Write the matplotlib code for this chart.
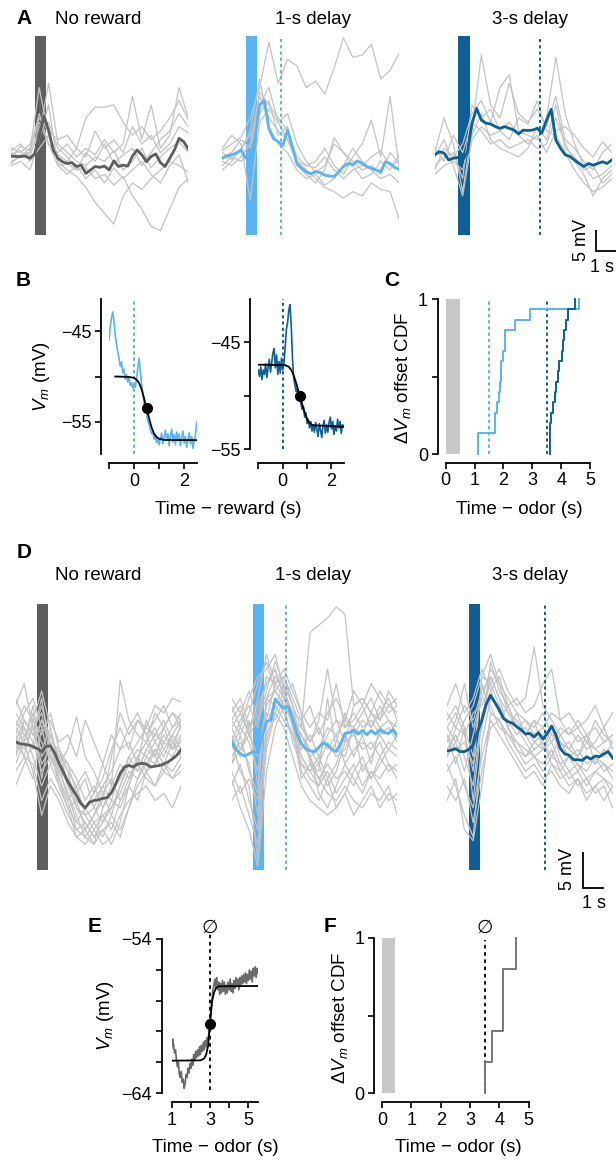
import numpy as np
import matplotlib
matplotlib.use('Agg')
import matplotlib.pyplot as plt

# ------------------------------------------------------------------ data
# time grids (s, relative to odor onset)
t_mean = np.round(np.arange(-1.0, 6.61, 0.2), 2)   # 39 samples
t_gray = np.round(np.arange(-1.0, 6.61, 0.4), 2)   # 20 samples

# Panel A mean traces (mV, relative)
A_nr_mean = [0.2, 0.1, 0.1, 0.2, -0.3, 0.7, 4.7, 9.5, 6.2, 1.6, -0.3, -1.1, -1.5, -1.3, -2.2,
             -1.9, -3.8, -3.0, -2.2, -2.4, -2.1, -3.0, -0.9, -2.2, -1.9, -2.1, 0.2, 1.6, 0.5, -1.1,
             0.1, 0.7, -1.3, -2.2, -0.3, 1.6, 4.3, 3.5, 1.8]
A_1s_mean = [-0.3, 0.2, 0.5, 0.9, 1.6, -0.3, 0.9, 3.9, 12.0, 13.0, 6.5, 4.2, 3.5, 2.7, 6.2,
             2.4, -1.5, -2.6, -3.4, -3.9, -3.4, -3.6, -4.2, -4.4, -4.5, -3.4, -2.2, -1.5, -1.8, -0.9,
             -1.5, -2.2, -2.6, -3.0, -3.4, -1.1, -1.5, -2.4, -2.9]
A_3s_mean = [0.5, 1.2, 0.9, -0.7, -0.3, -0.1, -0.7, 0.9, 7.8, 11.2, 8.5, 7.8, 7.6, 7.0, 6.6,
             7.0, 6.6, 6.2, 5.3, 6.2, 6.1, 6.2, 6.6, 5.5, 8.5, 11.0, 3.9, 2.0, 0.5, 0.1,
             -0.7, -1.5, -2.2, -1.5, -1.9, -1.5, -1.1, -1.5, -0.7]

# Panel A single-trial traces
A_nr_trials = [
    [0.5, 1.5, -1.0, 2.0, 5.0, -1.0, -3.0, -4.5, -7.0, -10.5, -13.0, -15.5, -9.0, -6.0, -7.5, -5.0, -3.0, -1.0, -2.0, -3.5],
    [1.0, 0.0, 2.0, 8.0, 3.0, -2.0, -1.5, -3.0, -2.5, -5.0, -4.0, -6.5, -4.5, -9.0, -12.0, -16.0, -17.0, -12.0, -7.0, -5.0],
    [2.0, 1.0, 3.0, 9.0, 6.0, 4.0, 5.0, 2.0, 9.0, 11.5, 11.5, 12.0, 8.0, 5.0, 7.0, 4.0, 6.0, 9.0, 13.0, 8.5],
    [-1.0, 0.0, 1.0, 10.0, 3.0, 1.0, 3.0, 0.0, 2.0, 0.5, 4.0, 1.0, 3.0, 14.0, 4.0, 12.0, 2.0, 5.0, 16.0, 9.0],
    [0.0, 2.5, 1.5, 16.0, 5.0, 0.5, -1.0, 2.0, 0.0, 6.0, 2.0, 4.0, 1.0, 7.0, 3.0, 5.0, 1.0, 3.0, 7.0, 5.5],
    [-2.0, -1.0, -3.0, 4.0, 12.0, -2.0, -4.0, -2.0, -5.0, -3.0, -6.0, -2.5, -5.0, -3.0, -1.0, -4.0, -6.0, -2.0, 0.5, -6.0],
    [1.5, 3.0, 0.0, 7.0, 8.0, 2.0, 0.0, -3.0, 1.0, -1.0, 3.0, -1.5, 0.5, 2.0, -2.0, 1.0, 4.0, 6.0, 10.0, 7.0],
    [-1.5, 0.5, 1.0, 5.0, 17.0, 3.0, 1.0, -1.0, -2.0, 0.0, -1.0, 1.5, -3.0, -1.0, 2.0, -2.5, 0.0, 2.0, 3.5, 1.0],
]
A_1s_trials = [
    [1.5, 3.0, 4.5, 9.0, 16.0, 26.5, 17.0, 22.5, 21.0, 16.0, 17.5, 14.5, 20.5, 27.5, 23.0, 23.5, 26.0, 18.0, 20.0, 24.0],
    [0.0, 1.0, 4.0, 2.0, 14.0, 9.0, 6.0, 4.0, -1.0, -3.0, -5.0, -7.0, -8.0, -9.5, -8.0, -9.0, -6.0, -7.5, -8.0, -14.5],
    [2.0, 5.0, 3.0, -10.0, 8.0, 11.0, 8.0, 10.0, 3.0, -1.0, -3.5, -2.0, 3.0, 1.0, -1.0, -3.0, -2.0, -4.0, 1.0, -1.5],
    [-1.0, -2.0, 0.0, 3.0, 15.0, 12.0, 9.0, 6.0, 0.0, -2.0, -1.0, 2.0, -2.0, -4.0, 0.0, 3.0, 8.5, 0.0, 14.0, -3.0],
    [-3.0, -1.0, 2.0, 5.0, 10.0, 13.0, 5.0, 7.0, -2.0, -4.0, -6.0, -3.0, 4.5, 1.0, -2.0, -5.0, -4.0, -1.0, -3.0, 0.5],
    [1.0, -0.5, 1.5, 6.0, 18.0, 7.0, 3.0, 1.0, -3.0, -5.0, -4.0, -6.5, -5.0, -2.0, 2.0, -1.0, -3.0, -5.0, -4.0, -6.0],
    [-2.0, 0.0, -1.0, 1.0, 12.0, 16.0, 8.0, 4.0, -1.0, -2.0, -2.5, 0.0, -3.0, -5.0, -3.0, -2.0, 0.0, 1.5, -2.0, -1.0],
]
A_3s_trials = [
    [1.0, 9.0, 3.0, -8.0, 6.0, 23.5, 12.0, 9.0, 17.0, 10.0, 8.0, 11.0, 7.0, 14.0, 4.0, 2.0, -1.0, -3.0, 1.0, 3.0],
    [-3.0, 2.0, 0.0, 3.0, 10.0, 13.0, 8.0, 16.0, 19.0, 6.0, 5.0, 4.0, 9.0, 23.0, 10.0, 3.0, -2.0, -5.0, -4.0, -2.0],
    [0.0, 4.0, -2.0, -9.0, 4.0, 7.0, 5.0, 6.0, 4.0, 9.0, 7.5, 13.0, 6.0, 5.0, 1.0, -3.0, -6.0, -8.0, -7.0, -5.0],
    [2.0, -1.0, 5.0, 1.0, 8.0, 6.0, 3.0, 4.0, 2.0, 3.0, 4.0, 2.0, 3.0, 9.0, 3.0, -1.0, -4.0, -9.0, -5.0, -3.0],
    [-2.0, 0.0, 1.0, -5.0, 12.0, 9.0, 11.0, 6.0, 8.0, 5.0, 3.0, 5.0, 1.0, 6.0, 7.0, 5.0, 2.0, 0.0, 3.5, 1.0],
    [-4.0, -2.0, -1.0, -3.0, 5.0, 10.0, 4.0, 2.0, 1.0, 0.0, 2.0, 7.0, 4.0, 12.0, 2.0, 0.0, -3.0, -2.0, -6.0, -4.0],
]

# Panel D mean traces
D_nr_mean = [0.0, -0.2, -0.3, -0.4, -0.6, -0.9, -1.3, -0.6, -0.5, -1.5, -2.9, -4.1, -5.4, -6.4, -7.3,
             -8.4, -9.0, -8.2, -8.0, -7.9, -7.7, -7.6, -6.9, -5.7, -4.3, -3.4, -3.2, -3.4, -3.0, -2.9,
             -3.0, -3.4, -3.3, -3.2, -3.0, -2.7, -2.3, -1.8, -1.0]
D_1s_mean = [0.1, -1.0, -1.6, -1.9, -1.6, -1.3, -1.5, 0.7, 2.8, 3.0, 5.9, 5.2, 4.6, 4.9, 3.2,
             1.1, -0.2, -0.9, -1.2, -1.3, -0.7, -0.1, -0.4, -1.0, -1.3, -0.2, 1.2, 1.3, 1.6, 1.1,
             1.6, 1.0, 1.6, 1.1, 1.7, 1.3, 1.2, 1.7, 0.8]
D_3s_mean = [-1.2, -1.1, -0.9, -1.3, -1.3, -1.0, -0.4, 1.4, 3.0, 5.2, 6.4, 5.4, 4.4, 3.2, 2.8,
             2.6, 2.1, 1.7, 1.1, 1.2, 0.7, 1.3, 0.4, 1.2, 2.2, 1.0, -0.9, -1.6, -1.8, -2.4,
             -2.4, -2.5, -2.0, -2.3, -1.9, -2.0, -1.6, -1.3, -2.2]

D_nr_trials = [
    [5.0, 8.0, 2.0, -3.0, -1.0, -6.0, -9.0, -11.0, -12.0, -10.0, -8.0, -2.0, 4.0, 1.0, 3.0, 2.0, 5.0, 4.0, 6.0, 5.5],
    [-2.0, 1.0, -1.0, 3.0, 0.0, -4.0, -7.0, -10.0, -13.0, -14.0, -12.0, -11.0, -13.0, -9.0, -6.0, -4.0, -3.0, -1.0, -2.0, 0.5],
    [2.0, 0.0, 4.0, -5.0, 1.0, -2.0, -3.0, -5.0, -8.0, -6.0, -9.0, -7.0, -5.0, -2.0, 0.0, 2.0, 1.0, 3.0, 0.0, 2.0],
    [0.0, 3.0, 1.0, 6.0, -1.0, -3.0, -6.0, -8.0, -9.0, -11.0, -10.0, -12.0, -8.0, -5.0, -3.0, -5.0, -6.0, -4.0, -5.0, -3.0],
    [-4.0, -2.0, -3.0, -8.0, -5.0, -7.0, -10.0, -12.0, -11.0, -13.0, -11.0, -9.0, -6.0, -3.0, -4.0, -1.0, 1.0, 0.0, 2.0, 3.0],
    [1.0, 4.0, 6.0, 2.0, 3.0, 0.0, 1.0, -2.0, 3.0, 0.0, -3.0, -6.0, 8.5, 3.0, 1.0, 0.0, 4.0, 2.0, -1.0, 1.0],
    [3.0, 1.0, 2.0, 0.0, -2.0, -5.0, -8.0, -6.0, -4.0, -7.0, -5.0, -1.0, 2.0, -1.0, 3.0, 1.0, -2.0, 2.0, 4.0, 2.0],
    [-1.0, 2.0, -2.0, -6.0, -3.0, -1.0, -4.0, -9.0, -10.0, -12.0, -14.0, -13.0, -10.0, -8.0, -7.0, -6.0, -8.0, -7.0, -9.0, -6.0],
    [0.5, -1.0, 2.0, 4.0, -2.0, -4.0, -5.0, -7.0, -9.0, -8.0, -6.0, -8.0, -4.0, -3.0, -1.0, -2.0, 0.0, -2.0, 1.0, -1.0],
    [-6.0, -3.0, 0.0, -4.0, -2.0, -3.0, -1.0, 3.5, -2.0, -4.0, -7.0, -10.0, -12.0, -9.0, -5.0, -2.0, -3.0, 0.0, -1.0, 2.5],
    [2.0, 5.0, 3.0, 1.0, 4.0, -1.0, -6.0, -9.0, -11.0, -13.0, -12.0, -14.0, -11.0, -6.0, -2.0, 0.0, 2.0, -1.0, 1.0, 3.0],
    [-1.5, 0.0, -4.0, -10.0, -6.0, -8.0, -11.0, -13.0, -14.0, -12.0, -10.0, -9.0, -7.0, -4.0, -5.0, -3.0, -1.0, -3.0, -4.0, -2.0],
    [1.0, -2.0, 3.0, 7.0, 2.0, -3.0, -8.0, -12.0, -13.0, -11.0, -13.0, -10.0, -6.0, -2.0, -4.0, -1.0, -2.0, 1.0, -1.0, 0.0],
    [-3.0, 0.0, 5.0, -2.0, 0.0, -5.0, -9.0, -13.0, -12.0, -14.0, -9.0, -6.0, -3.0, -5.0, -2.0, 0.0, -2.0, -4.0, -2.0, -1.5],
    [4.0, 2.0, 0.0, 3.0, 1.0, -2.0, -4.0, -6.0, -10.0, -9.0, -11.0, -8.0, -9.0, -6.0, -8.0, -4.0, -6.0, -3.0, -5.0, -4.0],
    [-2.0, 3.0, 1.0, -1.0, 2.0, -4.0, -7.0, -11.0, -9.0, -7.0, -3.0, 1.0, -1.0, 2.0, 4.0, 1.0, 3.0, 5.0, 2.0, 4.0],
    [0.0, -2.0, -5.0, 2.0, -3.0, -6.0, -9.0, -8.0, -12.0, -10.0, -7.0, -5.0, -8.0, -6.0, -2.0, -4.0, -1.0, -3.0, 0.0, -2.0],
    [6.0, 3.0, 1.0, 5.0, 0.0, -1.0, -3.0, -7.0, -5.0, -9.0, -6.0, -4.0, -1.0, 0.0, -3.0, 3.0, 0.0, 2.0, 4.0, 3.0],
]
D_1s_trials = [
    [2.0, 4.0, 1.0, 3.0, 6.0, 7.0, 5.0, 3.0, 2.0, 15.0, 16.0, 17.0, 18.5, 17.5, 5.0, 6.0, 4.0, 3.0, 5.0, 4.0],
    [-5.0, -9.0, -12.0, -17.0, -4.0, 2.0, 5.0, 0.0, -3.0, -4.0, -6.0, -2.0, 0.0, 4.0, 1.0, 3.0, 2.0, 5.0, 3.0, 2.0],
    [1.0, -2.0, 3.0, -6.0, 6.0, 9.0, 7.0, 4.0, 0.0, -2.0, -5.0, -7.0, -8.0, -6.0, -8.0, -9.0, -7.0, -8.0, -6.0, -10.0],
    [4.0, 6.0, 2.0, 5.0, 8.0, 10.0, 6.0, 2.0, -1.0, 1.0, -2.0, 1.0, 3.0, 0.0, 5.0, 6.0, 4.0, 7.0, 5.0, 6.0],
    [-2.0, 0.0, -3.0, -10.0, 2.0, 6.0, 4.0, 1.0, -3.0, -5.0, -6.0, -4.0, -7.0, -5.0, -3.0, -6.0, -4.0, -5.0, -3.0, -4.0],
    [0.0, 3.0, 5.0, 2.0, 9.0, 8.0, 9.0, 6.0, 3.0, 0.0, 2.0, -1.0, 1.0, 3.0, 2.0, 1.0, 4.0, 2.0, 3.0, 1.0],
    [-8.0, -6.0, -10.0, -14.0, -1.0, 4.0, 2.0, -2.0, -6.0, -8.0, -9.0, -10.0, -9.0, -7.0, -4.0, -2.0, -5.0, -3.0, -1.0, -2.0],
    [3.0, 1.0, 4.0, 8.0, 11.0, 7.0, 5.0, 3.0, 1.0, -1.0, -3.0, 0.0, -2.0, -1.0, 2.0, 4.0, 6.0, 3.0, 7.0, 5.0],
    [-1.0, 2.0, 0.0, -4.0, 4.0, 3.0, 6.0, 8.0, 4.0, -3.0, -5.0, -3.0, -5.0, -4.0, -6.0, -3.0, -5.0, -2.0, -4.0, -3.0],
    [6.0, 4.0, 7.0, 3.0, 7.0, 11.0, 8.0, 5.0, 2.0, 0.0, 3.0, 10.0, 3.0, 2.0, 4.0, 2.0, 3.0, 1.0, 2.0, 0.0],
    [-4.0, -7.0, -5.0, -8.0, 0.0, 5.0, 3.0, 1.0, -2.0, -4.0, -3.0, -6.0, -4.0, 0.0, 1.0, -1.0, 0.0, -2.0, 0.0, -1.0],
    [-3.0, -1.0, 1.0, -2.0, 5.0, 7.0, 9.0, 5.0, 0.0, -2.0, -1.0, 2.0, 1.0, -3.0, -1.0, 0.0, -1.0, 1.0, -1.0, 1.0],
    [-6.0, -3.0, -8.0, -12.0, 3.0, 8.0, 6.0, 3.0, -4.0, -6.0, -8.0, -5.0, -9.0, -7.0, -10.0, -8.0, -6.0, -9.0, -7.0, -8.0],
    [5.0, 2.0, 6.0, 9.0, 10.0, 12.0, 7.0, 4.0, 3.0, 5.0, 1.0, 4.0, 6.0, 3.0, 7.0, 5.0, 8.0, 6.0, 4.0, 5.0],
    [-3.0, 1.0, -4.0, -7.0, 6.0, 5.0, 8.0, 2.0, -5.0, -3.0, -4.0, 6.0, -1.0, -2.0, 2.0, -4.0, -2.0, 0.0, -3.0, -5.0],
    [2.0, -1.0, 2.0, 4.0, 8.0, 10.0, 6.0, 3.0, -2.0, -4.0, -2.0, -5.0, -3.0, 1.0, -2.0, 1.0, -3.0, 2.0, 1.0, 3.0],
    [0.0, -4.0, -6.0, -16.0, 1.0, 4.0, 7.0, 3.0, 1.0, -2.0, -7.0, -9.0, -6.0, -3.0, -5.0, -7.0, -4.0, -6.0, -8.0, -7.0],
    [3.0, 5.0, 1.0, 6.0, 12.0, 8.0, 10.0, 7.0, 4.0, 2.0, 4.0, 3.0, 8.0, 2.0, 3.0, 5.0, 2.0, 4.0, 6.0, 3.0],
]
D_3s_trials = [
    [0.0, 3.0, 8.0, 2.0, 6.0, 10.0, 8.0, 6.0, 4.0, 3.0, 2.0, 4.0, 1.0, 0.0, -2.0, -1.0, -3.0, -2.0, -4.0, -3.0],
    [-3.0, -6.0, -10.0, -13.0, 0.0, 6.0, 5.0, 2.0, 0.0, -2.0, -1.0, 0.0, -3.0, -5.0, -4.0, -6.0, -5.0, -7.0, -6.0, -9.0],
    [2.0, 0.0, 3.0, 5.0, 9.0, 8.0, 10.0, 7.0, 5.0, 6.0, 13.0, 5.0, 3.0, 1.0, 2.0, 0.0, 1.0, -1.0, 0.0, 1.0],
    [-1.0, 1.0, -2.0, -6.0, 4.0, 7.0, 4.0, 3.0, 1.0, 2.0, 0.0, 1.0, 2.0, -2.0, -4.0, -3.0, -5.0, -4.0, -3.0, -5.0],
    [-6.0, -8.0, -5.0, -11.0, -4.0, 2.0, 3.0, 1.0, 0.0, -1.0, -2.0, -1.0, 0.0, -3.0, -2.0, -4.0, -2.0, -3.0, -1.0, -2.0],
    [4.0, 2.0, 5.0, 3.0, 7.0, 9.0, 6.0, 4.0, 3.0, 1.0, 3.0, 2.0, 4.0, 3.0, 1.0, 2.0, 0.0, 3.0, 1.0, 0.0],
    [1.0, -1.0, 0.0, -3.0, 2.0, 11.0, 7.0, 5.0, 2.0, 0.0, -2.0, -3.0, -1.0, -4.0, -6.0, -5.0, -7.0, -6.0, -8.0, -6.0],
    [-2.0, 2.0, 1.0, 4.0, 5.0, 8.0, 5.0, 2.0, -1.0, -2.0, 0.0, -1.0, 1.0, 0.0, -1.0, 1.0, -1.0, 0.0, 2.0, -1.0],
    [3.0, 5.0, 2.0, -2.0, 8.0, 4.0, 3.0, 5.0, 2.0, 1.0, -1.0, 0.0, -2.0, 1.0, -1.0, -2.0, 0.0, -1.0, -2.0, 0.0],
    [-4.0, -2.0, -6.0, -9.0, -2.0, 3.0, 1.0, -1.0, -3.0, -5.0, -4.0, -6.0, -3.0, -4.0, -2.0, -3.0, -4.0, -2.0, -3.0, -4.0],
    [-8.0, -5.0, -12.0, -13.5, -6.0, 4.0, 3.0, 0.0, -2.0, -4.0, -3.0, -5.0, -4.0, -6.0, -7.0, -5.0, -8.0, -6.0, -5.0, -7.0],
    [5.0, 8.0, 4.0, 6.0, 10.0, 7.0, 9.0, 5.0, 6.0, 4.0, 5.0, 8.0, 10.0, 3.0, 4.0, 2.0, 3.0, 5.0, 2.0, 4.0],
    [1.0, -3.0, 2.0, -8.0, 3.0, 9.0, 6.0, 2.0, 4.0, 1.0, 3.0, -1.0, 2.0, -1.0, 0.0, -2.0, 1.0, -3.0, -1.0, -2.0],
    [-2.0, 0.0, -4.0, 1.0, 6.0, 5.0, 2.0, 1.0, -1.0, -3.0, -2.0, -4.0, -2.0, -3.0, -5.0, -4.0, -6.0, -4.0, -5.0, -6.0],
    [2.0, 4.0, 1.0, -4.0, 9.0, 12.0, 8.0, 4.0, 2.0, 3.0, 1.0, 2.0, 0.0, 2.0, 1.0, 3.0, 1.0, 2.0, 0.0, 1.0],
]

odor_dur = 0.5
reward_1s = 1.5
reward_3s = 3.5

# Panel B (time - reward, s; Vm, mV)
tB = np.round(np.arange(-1.0, 2.501, 0.05), 2)   # 71 samples
B1_vm = [-46.0, -44.5, -43.5, -42.9, -44.0, -45.5, -46.5, -47.3, -48.0, -48.9, -48.4, -49.6, -49.2, -50.3,
         -49.8, -50.6, -50.1, -51.0, -50.7, -51.3, -50.9, -51.2, -50.2, -49.0, -48.0, -49.5, -50.8, -51.9,
         -53.0, -53.6, -54.2, -54.9, -55.3, -55.8, -56.3, -56.0, -56.9, -56.4, -57.3, -56.7, -57.5, -56.8,
         -56.2, -57.4, -56.6, -55.9, -57.0, -56.3, -57.6, -56.5, -55.8, -57.2, -56.4, -57.5, -56.1, -57.0,
         -56.3, -57.6, -56.7, -56.0, -57.3, -56.6, -57.8, -56.9, -56.2, -57.4, -56.6, -57.9, -57.1, -56.4, -55.0]
B1_fit_t = [-0.75, -0.2, 0.0, 0.1, 0.2, 0.3, 0.4, 0.5, 0.6, 0.7, 0.8, 0.9, 1.0, 1.2, 2.5]
B1_fit_v = [-50.0, -50.05, -50.15, -50.35, -50.7, -51.4, -52.4, -53.5, -54.6, -55.6, -56.3, -56.65, -56.85, -56.97, -57.0]
B1_mid = (0.5, -53.5)

B3_vm = [-47.6, -48.2, -47.3, -48.5, -47.6, -48.0, -47.0, -48.3, -47.4, -46.6, -47.8, -46.9, -46.0, -45.6,
         -47.4, -46.2, -48.0, -46.8, -47.9, -46.5, -47.6, -47.0, -45.5, -43.8, -43.2, -42.0, -41.5, -43.5,
         -46.5, -48.3, -49.0, -49.6, -49.3, -50.2, -50.0, -50.8, -51.3, -51.0, -52.0, -51.6, -52.6, -52.2,
         -53.0, -52.4, -53.3, -52.7, -53.4, -52.5, -53.1, -53.8, -52.6, -53.2, -53.9, -52.8, -52.3, -53.5,
         -52.7, -53.4, -52.5, -52.0, -53.1, -52.4, -53.6, -52.8, -53.3, -52.2, -53.0, -52.4, -53.5, -52.7, -52.9]
B3_fit_t = [-1.0, 0.1, 0.25, 0.35, 0.45, 0.55, 0.65, 0.7, 0.75, 0.85, 0.95, 1.05, 1.2, 2.5]
B3_fit_v = [-47.1, -47.15, -47.3, -47.6, -48.1, -48.8, -49.6, -50.0, -50.4, -51.2, -51.9, -52.4, -52.75, -52.9]
B3_mid = (0.7, -50.0)

# Panel C: Vm offset times (s after odor)
C_offsets_1s = [1.13, 1.13, 1.70, 1.70, 1.78, 1.85, 1.89, 1.91, 1.93, 1.99, 2.05, 2.05, 2.39, 2.91, 4.61]
C_offsets_3s = [3.60, 3.60, 3.60, 3.66, 3.71, 3.77, 3.83, 3.90, 3.94, 4.02, 4.06, 4.09, 4.17, 4.23, 4.47]

# Panel E: single trace, omitted reward
tE = np.round(np.arange(1.0, 5.501, 0.05), 2)   # 91 samples
E_vm = [-61.1, -60.5, -60.9, -61.4, -61.2, -61.9, -62.3, -62.0, -62.8, -63.0, -62.6, -63.3, -63.1, -63.7,
        -63.4, -62.8, -63.0, -62.4, -62.7, -62.1, -62.4, -61.8, -62.2, -61.5, -61.9, -61.3, -61.7, -61.2,
        -61.6, -61.0, -61.5, -60.9, -61.3, -60.7, -61.2, -60.6, -61.0, -60.4, -60.6, -59.9, -59.3, -58.6,
        -58.0, -57.3, -57.0, -56.6, -57.2, -56.5, -57.3, -56.8, -57.6, -56.9, -57.5, -56.7, -57.4, -56.8,
        -57.6, -57.0, -57.5, -56.8, -57.3, -56.6, -57.4, -56.9, -57.5, -56.7, -57.2, -56.5, -57.1, -56.6,
        -57.3, -56.5, -57.0, -56.4, -56.9, -56.3, -56.8, -56.2, -56.9, -56.3, -56.7, -56.0, -56.6, -56.1,
        -56.8, -55.9, -56.4, -55.8, -56.5, -55.9, -56.2]
E_fit_t = [1.0, 2.5, 2.7, 2.8, 2.9, 3.0, 3.1, 3.2, 3.3, 3.45, 5.5]
E_fit_v = [-61.9, -61.88, -61.75, -61.5, -60.9, -59.5, -58.1, -57.5, -57.2, -57.07, -57.05]
E_mid = (3.0, -59.5)
E_expected = 3.0

# Panel F
F_offsets = [3.52, 3.75, 4.14, 4.14, 4.56]
F_expected = 3.5
F_odor_dur = 0.45

# ------------------------------------------------------------------ style
C_GRAY_MEAN = '#5e5e5e'
C_LBLUE = '#59b4f3'
C_DBLUE = '#0c6097'
C_TRIAL = '#c3c3c3'
C_ODOR = '#c8c8c8'

W, H, DPI = 616, 1163, 100
plt.rcParams['font.family'] = ['Liberation Sans', 'DejaVu Sans']
plt.rcParams['mathtext.fontset'] = 'custom'
plt.rcParams['mathtext.rm'] = 'Liberation Sans'
plt.rcParams['mathtext.it'] = 'Liberation Sans:italic'
plt.rcParams['mathtext.bf'] = 'Liberation Sans:bold'
plt.rcParams['axes.unicode_minus'] = True

fig = plt.figure(figsize=(W / DPI, H / DPI), dpi=DPI)

def box(x0, y0, x1, y1):
    return [x0 / W, 1 - y1 / H, (x1 - x0) / W, (y1 - y0) / H]

def ftext(x, y, s, **kw):
    kw.setdefault('ha', 'center')
    kw.setdefault('va', 'center')
    fig.text(x / W, 1 - y / H, s, **kw)

FS_T = 13.5
FS_TK = 13
FS_L = 15
DOT = (0, (1.6, 1.6))

def trace_axes(x_left, y_top, y_bot, pps, ylim, bar_color, trials, mean, mean_color, reward=None):
    width = (6.6 - (-1.0)) * pps
    ax = fig.add_axes(box(x_left, y_top, x_left + width, y_bot))
    ax.set_xlim(-1.0, 6.6)
    ax.set_ylim(*ylim)
    ax.axis('off')
    ax.axvspan(0, odor_dur, color=bar_color, lw=0, zorder=1)
    for tr in trials:
        ax.plot(t_gray, tr, color=C_TRIAL, lw=0.9, zorder=2, solid_joinstyle='round')
    if reward is not None:
        ax.axvline(reward, color=mean_color, lw=1.4, ls=DOT, zorder=2.5)
    ax.plot(t_mean, mean, color=mean_color, lw=2.0, zorder=3, solid_joinstyle='round')
    return ax

# ---- Panel A
A_ylim = (-18.0, 27.9)
A_pps = 23.3
trace_axes(11.3, 36, 235, A_pps, A_ylim, C_GRAY_MEAN, A_nr_trials, A_nr_mean, C_GRAY_MEAN)
trace_axes(222.3, 36, 235, A_pps, A_ylim, C_LBLUE, A_1s_trials, A_1s_mean, C_LBLUE, reward_1s)
axA3 = trace_axes(434.7, 36, 235, A_pps, A_ylim, C_DBLUE, A_3s_trials, A_3s_mean, C_DBLUE, reward_3s)
# scale bar 5 mV / 1 s
axA3.plot([5.91, 5.91, 6.91], [-16.8, -21.8, -21.8], color='black', lw=1.3, clip_on=False,
          solid_joinstyle='miter', solid_capstyle='butt')
ftext(581, 240, '5 mV', rotation=90, fontsize=FS_TK)
ftext(602, 268, '1 s', fontsize=FS_TK)

ftext(24, 18, 'A', fontsize=FS_L, fontweight='bold')
ftext(98, 20, 'No reward', fontsize=FS_T)
ftext(313, 20, '1-s delay', fontsize=FS_T)
ftext(529.5, 20, '3-s delay', fontsize=FS_T)

# ---- Panel D
D_ylim = (-17.5, 18.9)
D_pps = 21.8
trace_axes(15.5, 604, 870, D_pps, D_ylim, C_GRAY_MEAN, D_nr_trials, D_nr_mean, C_GRAY_MEAN)
trace_axes(231.6, 604, 870, D_pps, D_ylim, C_LBLUE, D_1s_trials, D_1s_mean, C_LBLUE, reward_1s)
axD3 = trace_axes(447.0, 604, 870, D_pps, D_ylim, C_DBLUE, D_3s_trials, D_3s_mean, C_DBLUE, reward_3s)
axD3.plot([5.22, 5.22, 6.22], [-15.0, -20.0, -20.0], color='black', lw=1.3, clip_on=False,
          solid_joinstyle='miter', solid_capstyle='butt')
ftext(568, 869, '5 mV', rotation=90, fontsize=FS_TK)
ftext(594, 903, '1 s', fontsize=FS_TK)

ftext(24, 553, 'D', fontsize=FS_L, fontweight='bold')
ftext(98, 575, 'No reward', fontsize=FS_T)
ftext(313, 575, '1-s delay', fontsize=FS_T)
ftext(529.5, 575, '3-s delay', fontsize=FS_T)

# ---- helper for spine axes
def spine_axes(rect_px, left_off, bot_off):
    ax = fig.add_axes(box(*rect_px))
    for s in ('top', 'right'):
        ax.spines[s].set_visible(False)
    ax.spines['left'].set_position(('outward', left_off * 0.72))
    ax.spines['bottom'].set_position(('outward', bot_off * 0.72))
    for s in ('left', 'bottom'):
        ax.spines[s].set_linewidth(1.3)
    ax.tick_params(length=4, width=1.2, labelsize=FS_TK, pad=3)
    ax.patch.set_alpha(0)
    return ax

# ---- Panel B
axB1 = spine_axes((109, 299, 196.7, 454), 8, 9)
axB1.set_xlim(-1, 2.5)
axB1.set_ylim(-58.52, -41.48)
axB1.axvline(0, color=C_LBLUE, lw=1.4, ls=DOT)
axB1.plot(tB, B1_vm, color=C_LBLUE, lw=1.2)
axB1.plot(B1_fit_t, B1_fit_v, color='black', lw=1.3)
axB1.plot(*B1_mid, 'o', color='black', ms=7)
axB1.set_yticks([-45, -50, -55])
axB1.set_yticklabels(['\u221245', '', '\u221255'])
axB1.set_xticks([-1, 0, 1, 2])
axB1.set_xticklabels(['', '0', '', '2'])

axB3 = spine_axes((258.3, 299.3, 343.7, 449.3), 8.3, 13.7)
axB3.set_xlim(-1, 2.5)
axB3.set_ylim(-55.0, -41.0)
axB3.axvline(0, color=C_DBLUE, lw=1.4, ls=DOT)
axB3.plot(tB, B3_vm, color=C_DBLUE, lw=1.2)
axB3.plot(B3_fit_t, B3_fit_v, color='black', lw=1.3)
axB3.plot(*B3_mid, 'o', color='black', ms=7)
axB3.set_yticks([-45, -50, -55])
axB3.set_yticklabels(['\u221245', '', '\u221255'])
axB3.set_xticks([-1, 0, 1, 2])
axB3.set_xticklabels(['', '0', '', '2'])

ftext(23, 281, 'B', fontsize=FS_L, fontweight='bold')
ftext(42, 377, r'$V_m$ (mV)', rotation=90, fontsize=FS_T)
ftext(228, 510, 'Time \u2212 reward (s)', fontsize=FS_T)

# ---- Panel C
def cdf_steps(vals):
    xs = sorted(vals)
    n = len(xs)
    return [xs[0]] + xs, [0.0] + [(i + 1) / n for i in range(n)]

axC = spine_axes((445.7, 299, 590, 454), 8, 8.7)
axC.set_xlim(0, 5)
axC.set_ylim(0, 1)
axC.axvspan(0, odor_dur, color=C_ODOR, lw=0)
axC.axvline(reward_1s, color=C_LBLUE, lw=1.4, ls=DOT)
axC.axvline(reward_3s, color=C_DBLUE, lw=1.4, ls=DOT)
x1, y1 = cdf_steps(C_offsets_1s)
axC.step(x1, y1, where='post', color=C_LBLUE, lw=1.4, clip_on=False)
x3, y3 = cdf_steps(C_offsets_3s)
axC.step(x3, y3, where='post', color=C_DBLUE, lw=1.4, clip_on=False)
axC.set_yticks([0, 0.5, 1])
axC.set_yticklabels(['0', '', '1'])
axC.set_xticks([0, 1, 2, 3, 4, 5])

ftext(392, 281, 'C', fontsize=FS_L, fontweight='bold')
ftext(403, 378, r'$\Delta V_m$ offset CDF', rotation=90, fontsize=FS_T)
ftext(519, 510, 'Time \u2212 odor (s)', fontsize=FS_T)

# ---- Panel E
axE = spine_axes((171.7, 939, 258, 1093), 10, 9)
axE.set_xlim(1, 5.5)
axE.set_ylim(-64, -54)
axE.plot(tE, E_vm, color='#6a6a6a', lw=1.2)
axE.plot(E_fit_t, E_fit_v, color='black', lw=1.3)
axE.plot([E_expected, E_expected], [-63.8, -53.6], color='black', lw=1.3, ls=(0, (2, 2)), clip_on=False)
axE.plot(*E_mid, 'o', color='black', ms=7)
axE.set_yticks([-54, -56, -58, -60, -62, -64])
axE.set_yticklabels(['\u221254', '', '', '', '', '\u221264'])
axE.set_xticks([1, 2, 3, 4, 5])
axE.set_xticklabels(['1', '', '3', '', '5'])

ftext(95, 927, 'E', fontsize=FS_L, fontweight='bold')
ftext(210, 928, '\u2205', fontsize=FS_T)
ftext(106, 1016, r'$V_m$ (mV)', rotation=90, fontsize=FS_T)
ftext(215, 1148, 'Time \u2212 odor (s)', fontsize=FS_T)

# ---- Panel F
axF = spine_axes((382, 938, 528.7, 1093), 8, 9)
axF.set_xlim(0, 5)
axF.set_ylim(0, 1)
axF.axvspan(0, F_odor_dur, color=C_ODOR, lw=0)
axF.plot([F_expected, F_expected], [0, 0.99], color='black', lw=1.3, ls=(0, (2, 2)), clip_on=False)
xf, yf = cdf_steps(F_offsets)
axF.step(xf, yf, where='post', color='#777777', lw=1.4, clip_on=False)
axF.set_yticks([0, 0.5, 1])
axF.set_yticklabels(['0', '', '1'])
axF.set_xticks([0, 1, 2, 3, 4, 5])

ftext(330, 927, 'F', fontsize=FS_L, fontweight='bold')
ftext(485, 928, '\u2205', fontsize=FS_T)
ftext(340, 1018, r'$\Delta V_m$ offset CDF', rotation=90, fontsize=FS_T)
ftext(458, 1148, 'Time \u2212 odor (s)', fontsize=FS_T)

fig.savefig('out.png', dpi=DPI)
